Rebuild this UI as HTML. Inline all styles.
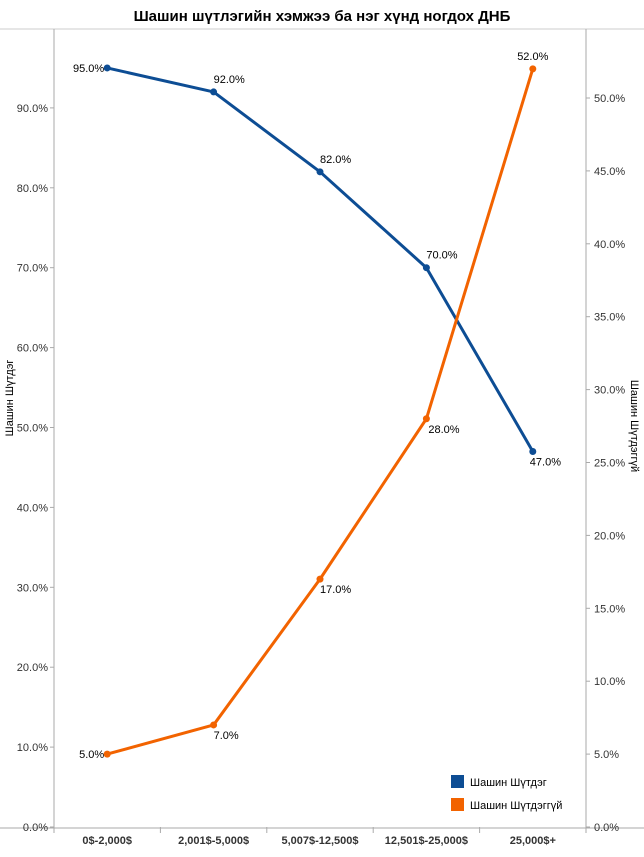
<!DOCTYPE html>
<html><head><meta charset="utf-8"><style>
body{margin:0;background:#fff;font-family:"Liberation Sans",sans-serif}
svg text{font-family:"Liberation Sans",sans-serif}
</style></head><body>
<svg width="644" height="852">
<text x="322" y="21" text-anchor="middle" font-size="15" font-weight="bold">Шашин шүтлэгийн хэмжээ ба нэг хүнд ногдох ДНБ</text>
<line x1="0" y1="29" x2="644" y2="29" stroke="#ccc"/>
<g id="axes"></g>
<g id="series"></g>
<text transform="translate(13,398) rotate(-90)" text-anchor="middle" font-size="11">Шашин Шүтдэг</text>
<text transform="translate(631,426) rotate(90)" text-anchor="middle" font-size="11">Шашин Шүтдэггүй</text>
<rect x="451" y="775" width="13" height="13" fill="#0d4d94"/>
<text x="470" y="786" font-size="11">Шашин Шүтдэг</text>
<rect x="451" y="798" width="13" height="13" fill="#f26300"/>
<text x="470" y="809" font-size="11">Шашин Шүтдэггүй</text>
</svg>
<script>
const categories=["0$-2,000$","2,001$-5,000$","5,007$-12,500$","12,501$-25,000$","25,000$+"];
const religious=[95,92,82,70,47];
const nonReligious=[5,7,17,28,52];
const leftTicks=[0,10,20,30,40,50,60,70,80,90];
const rightTicks=[0,5,10,15,20,25,30,35,40,45,50];
const NS="http://www.w3.org/2000/svg";
const x0=54,x1=586,yb=827;
const bw=(x1-x0)/categories.length;
const xs=i=>x0+bw*(i+0.5);
const yl=v=>yb-v*7.99;
const yr=v=>yb-v*14.58;
function mk(t,a,p){const e=document.createElementNS(NS,t);for(const k in a)e.setAttribute(k,a[k]);p.appendChild(e);return e;}
const ax=document.getElementById('axes'),se=document.getElementById('series');
let l=mk('line',{x1:x0,y1:29,x2:x0,y2:yb+6,stroke:'#aaa'},ax);


l=mk('line',{x1:x1,y1:29,x2:x1,y2:yb+6,stroke:'#aaa'},ax);


l=mk('line',{x1:0,y1:yb+1,x2:644,y2:yb+1,stroke:'#aaa'},ax);


leftTicks.forEach(v=>{const y=yl(v);mk('line',{x1:x0-4,y1:y,x2:x0,y2:y,stroke:'#aaa'},ax);
const t=mk('text',{x:x0-6,y:y+4,'text-anchor':'end','font-size':11,fill:'#333'},ax);t.textContent=v.toFixed(1)+'%';

});
rightTicks.forEach(v=>{const y=yr(v);mk('line',{x1:x1,y1:y,x2:x1+4,y2:y,stroke:'#aaa'},ax);
const t=mk('text',{x:x1+8,y:y+4,'font-size':11,fill:'#333'},ax);t.textContent=v.toFixed(1)+'%';

});
categories.forEach((c,i)=>{mk('line',{x1:x0+bw*(i+1),y1:yb,x2:x0+bw*(i+1),y2:yb+6,stroke:'#aaa'},ax);
const t=mk('text',{x:xs(i),y:yb+17,'text-anchor':'middle','font-size':11,'font-weight':'bold',fill:'#333'},ax);t.textContent=c;

});
function series(data,yf,col,name,lab){
 const p=mk('polyline',{points:data.map((v,i)=>xs(i)+','+yf(v)).join(' '),fill:'none',stroke:col,'stroke-width':3,'stroke-linejoin':'round'},se);
 
 
 data.forEach((v,i)=>{const c=mk('circle',{cx:xs(i),cy:yf(v),r:3.5,fill:col},se);
 
 
 const o=lab[i];const t=mk('text',{x:xs(i)+o[0],y:yf(v)+o[1],'text-anchor':o[2],'font-size':11},se);t.textContent=v.toFixed(1)+'%';
 
 });
}
series(religious,yl,'#0d4d94','religious',[[-3,4,'end'],[0,-9,'start'],[0,-9,'start'],[0,-9,'start'],[-3,14,'start']]);
series(nonReligious,yr,'#f26300','nonreligious',[[-3,4,'end'],[0,14,'start'],[0,14,'start'],[2,14,'start'],[0,-9,'middle']]);
</script>
</body></html>
